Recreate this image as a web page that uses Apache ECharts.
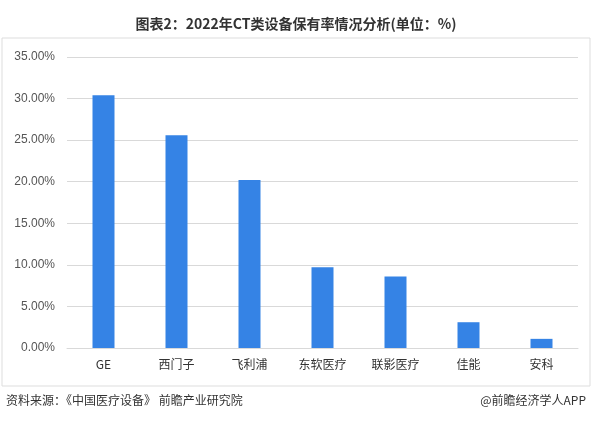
<!DOCTYPE html>
<html>
<head>
<meta charset="utf-8">
<script src="https://cdn.jsdelivr.net/npm/echarts@6/dist/echarts.min.js"></script>
</head>
<body style="margin:0">
<div id="main" style="width:592px;height:422px;"></div>
<script>
var categories = ['GE', '西门子', '飞利浦', '东软医疗', '联影医疗', '佳能', '安科'];
var shares = [30.4, 25.6, 20.2, 9.7, 8.6, 3.1, 1.1];

var chart = echarts.init(document.getElementById('main'));
chart.setOption({
  animation: false,
  title: {
    text: '图表2：2022年CT类设备保有率情况分析(单位：%)',
    left: 'center', top: 12,
    textStyle: { fontSize: 14, fontWeight: 'bold', color: '#333', fontFamily: 'Noto Sans CJK SC' }
  },
  graphic: [
    { type: 'rect', shape: { x: 2, y: 38, width: 588, height: 348 }, style: { fill: 'none', stroke: '#ddd', lineWidth: 1 } },
    { type: 'text', left: 6, top: 394, style: { text: '资料来源：《中国医疗设备》 前瞻产业研究院', fontSize: 12, fill: '#333', fontFamily: 'Noto Sans CJK SC' } },
    { type: 'text', right: 6, top: 394, style: { text: '@前瞻经济学人APP', fontSize: 12, fill: '#333', fontFamily: 'Noto Sans CJK SC' } }
  ],
  grid: { left: 67, right: 14, top: 57, bottom: 74 },
  xAxis: {
    type: 'category', data: categories,
    axisLine: { lineStyle: { color: '#d9d9d9' } },
    axisTick: { show: false },
    axisLabel: { color: '#333', fontSize: 12, margin: 10, fontFamily: 'Noto Sans CJK SC' }
  },
  yAxis: {
    type: 'value', min: 0, max: 35, interval: 5,
    axisLabel: { formatter: function (v) { return v.toFixed(2) + '%'; }, color: '#555', fontSize: 12, margin: 12 },
    splitLine: { lineStyle: { color: '#d9d9d9' } }
  },
  series: [{
    type: 'bar', data: shares, barWidth: 22,
    itemStyle: { color: '#3583e5' }
  }]
});
</script>
</body>
</html>
